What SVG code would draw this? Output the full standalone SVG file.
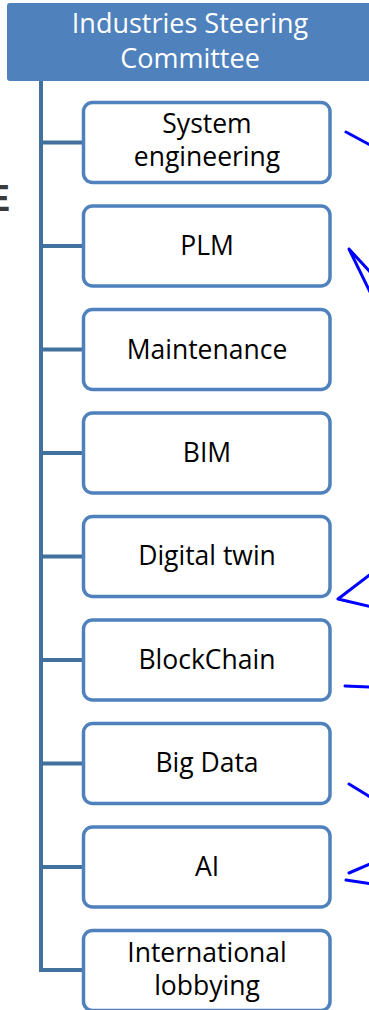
<svg xmlns="http://www.w3.org/2000/svg" width="369" height="1010" viewBox="0 0 369 1010">
  <style>
    .box { fill: #ffffff; stroke: #4f81bd; stroke-width: 3.5; }
    .lbl { font-family: "Open Sans", "Liberation Sans", sans-serif; font-size: 26.5px; fill: #000000; text-anchor: middle; }
    .head { font-family: "Open Sans", "Liberation Sans", sans-serif; font-size: 27px; fill: #ffffff; text-anchor: middle; }
    .link { fill: none; stroke: #41719c; stroke-width: 4; }
    .ink { fill: none; stroke: #0000ff; stroke-width: 3; stroke-linecap: round; stroke-linejoin: round; }
  </style>

  <rect width="369" height="1010" fill="#ffffff"/>

  <!-- edge of a letter running off the left side -->
  <text x="-14" y="211" font-family="Liberation Sans, sans-serif" font-weight="bold" font-size="36" fill="#3a3a3a">E</text>

  <!-- tree connectors -->
  <g id="connectors">
    <path class="link" d="M41 81 V970 H83"/>
    <path class="link" d="M41 142.5 H83"/>
    <path class="link" d="M41 246 H83"/>
    <path class="link" d="M41 349.5 H83"/>
    <path class="link" d="M41 453 H83"/>
    <path class="link" d="M41 556.5 H83"/>
    <path class="link" d="M41 660 H83"/>
    <path class="link" d="M41 763.5 H83"/>
    <path class="link" d="M41 867 H83"/>
  </g>

  <!-- root node -->
  <g id="root">
    <rect x="7" y="3" width="372" height="78" rx="3" fill="#4f81bd"/>
    <text class="head" x="190" y="33">Industries Steering</text>
    <text class="head" x="190" y="68">Committee</text>
  </g>

  <g id="n-system-engineering">
    <rect class="box" x="83.5" y="102.5" width="246.5" height="80" rx="9"/>
    <text class="lbl" x="207" y="133">System</text>
    <text class="lbl" x="207" y="166">engineering</text>
  </g>
  <g id="n-plm">
    <rect class="box" x="83.5" y="206" width="246.5" height="80" rx="9"/>
    <text class="lbl" x="207" y="255">PLM</text>
  </g>
  <g id="n-maintenance">
    <rect class="box" x="83.5" y="309.5" width="246.5" height="80" rx="9"/>
    <text class="lbl" x="207" y="359">Maintenance</text>
  </g>
  <g id="n-bim">
    <rect class="box" x="83.5" y="413" width="246.5" height="80" rx="9"/>
    <text class="lbl" x="207" y="462">BIM</text>
  </g>
  <g id="n-digital-twin">
    <rect class="box" x="83.5" y="516.5" width="246.5" height="80" rx="9"/>
    <text class="lbl" x="207" y="565">Digital twin</text>
  </g>
  <g id="n-blockchain">
    <rect class="box" x="83.5" y="620" width="246.5" height="80" rx="9"/>
    <text class="lbl" x="207" y="669">BlockChain</text>
  </g>
  <g id="n-big-data">
    <rect class="box" x="83.5" y="723.5" width="246.5" height="80" rx="9"/>
    <text class="lbl" x="207" y="772">Big Data</text>
  </g>
  <g id="n-ai">
    <rect class="box" x="83.5" y="827" width="246.5" height="80" rx="9"/>
    <text class="lbl" x="207" y="876">AI</text>
  </g>
  <g id="n-international-lobbying">
    <rect class="box" x="83.5" y="930.5" width="246.5" height="80" rx="9"/>
    <text class="lbl" x="207" y="962">International</text>
    <text class="lbl" x="207" y="995">lobbying</text>
  </g>

  <!-- hand-drawn pen strokes at the right edge -->
  <g id="pen-marks">
    <path class="ink" d="M346 132 L372 146"/>
    <path class="ink" d="M349 249 L372 296 M349 249 L372 274"/>
    <path class="ink" d="M372 573 L338 599 L372 607"/>
    <path class="ink" d="M345 686 L372 687"/>
    <path class="ink" d="M349 784 L372 798"/>
    <path class="ink" d="M349 873 L372 863 M346 880 L372 884"/>
  </g>
</svg>
